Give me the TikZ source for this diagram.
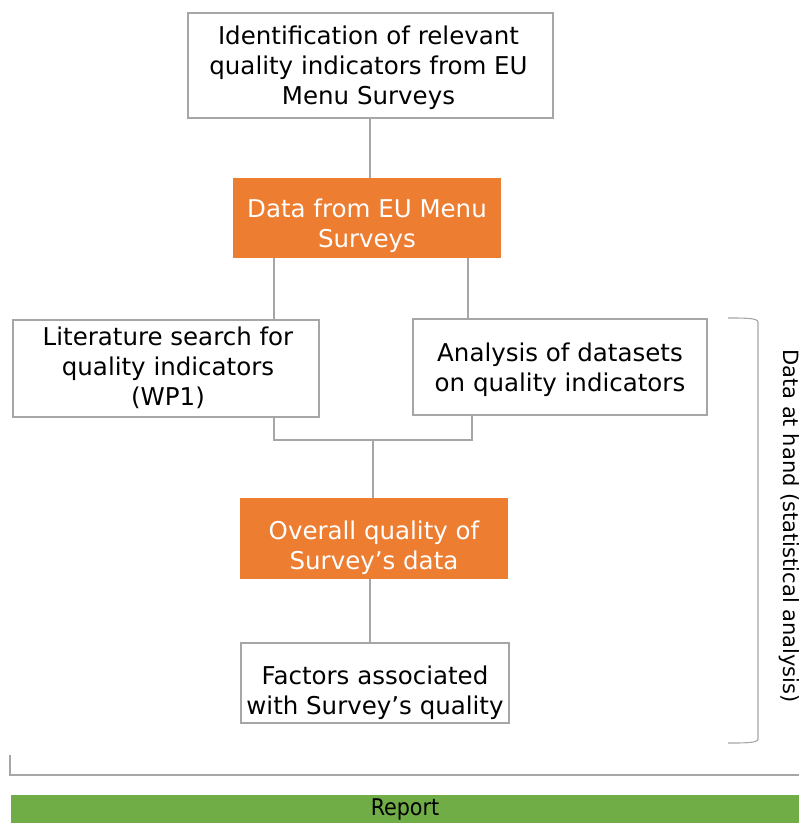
\documentclass[tikz,border=0pt]{standalone}
\usepackage{fontspec}
\setmainfont{DejaVu Sans}
\newfontfamily\condfont{DejaVu Sans Condensed}
\definecolor{orangebox}{HTML}{ED7D31}
\definecolor{greenbar}{HTML}{70AD47}
\definecolor{linegray}{HTML}{A6A6A6}
\begin{document}
\begin{tikzpicture}[x=1pt,y=-1pt,
  txt/.style={font=\fontsize{24.5}{30}\selectfont, align=center, inner sep=0pt, anchor=north},
  whitebox/.style={draw=linegray, line width=1.3pt, fill=white, inner sep=0pt},
  orangebx/.style={fill=orangebox, inner sep=0pt},
  conn/.style={draw=linegray, line width=1.3pt}]
\useasboundingbox (0,0) rectangle (799,823);
\node[whitebox, minimum width=365pt, minimum height=105pt] (b1) at (370.5,65.5) {};
\node[orangebx, minimum width=268pt, minimum height=80pt] (b2) at (367,218) {};
\node[whitebox, minimum width=306pt, minimum height=97pt] (b3) at (166,368.5) {};
\node[whitebox, minimum width=294pt, minimum height=96pt] (b4) at (560,367) {};
\node[orangebx, minimum width=268pt, minimum height=81pt] (b5) at (374,538.5) {};
\node[whitebox, minimum width=268pt, minimum height=80pt] (b6) at (375,683) {};
\node[txt] (b1t) at (368.5,25.4) {Identification of relevant\\quality indicators from EU\\Menu Surveys};
\node[txt, text=white] (b2t) at (367,198.4) {Data from EU Menu\\Surveys};
\node[txt] (b3t) at (168,326.4) {Literature search for\\quality indicators\\(WP1)};
\node[txt] (b4t) at (560,342.4) {Analysis of datasets\\on quality indicators};
\node[txt, text=white] (b5t) at (374,520.4) {Overall quality of\\Survey’s data};
\node[txt] (b6t) at (375,665.4) {Factors associated\\with Survey’s quality};
\coordinate (j) at (373,440);
\draw[conn] (b1.south -| 370,0) -- (b2.north -| 370,0);
\draw[conn] (b2.south -| 274,0) -- (b3.north -| 274,0);
\draw[conn] (b2.south -| 468,0) -- (b4.north -| 468,0);
\draw[conn] (b3.south -| 274,0) -- (274,440) -- (472,440) -- (b4.south -| 472,0);
\draw[conn] (j) -- (b5.north -| j);
\draw[conn] (b5.south -| 370,0) -- (b6.north -| 370,0);
% right bracket
\coordinate (rt) at (728,318);
\coordinate (rb) at (728,743);
\draw[conn, line width=1.1pt] (rt) .. controls (745,318) and (758,318) .. (758,322) -- (758,739) .. controls (758,743) and (745,743) .. (rb);
\node[font=\fontsize{21}{25}\selectfont, rotate=-90, inner sep=0pt] (side) at (789,526) {Data at hand (statistical analysis)};
% bottom bracket
\coordinate (bl) at (10,755);
\coordinate (br) at (799,775);
\draw[conn, line width=1.1pt] (bl) -- (10,775) -- (br);
% report bar
\node[fill=greenbar, minimum width=788pt, minimum height=28pt, inner sep=0pt, font=\condfont\fontsize{23}{26}\selectfont, text=black] (rep) at (405,809) {Report};
\end{tikzpicture}
\end{document}
